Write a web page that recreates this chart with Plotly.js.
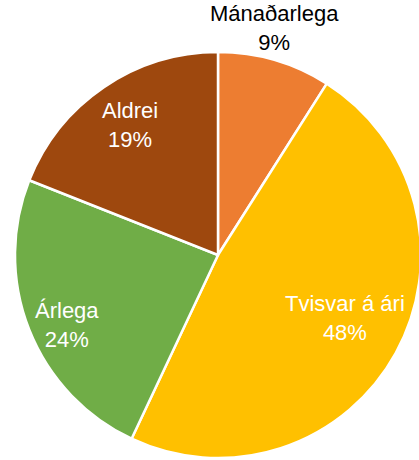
<!DOCTYPE html>
<html>
<head>
<meta charset="utf-8">
<script src="https://cdn.plot.ly/plotly-3.0.1.min.js"></script>
<style>
html, body { margin: 0; padding: 0; overflow: hidden; background: #ffffff; }
#chart { width: 436px; height: 460px; }
</style>
</head>
<body>
<div id="chart"></div>
<script>
var categories = ["Mánaðarlega", "Tvisvar á ári", "Árlega", "Aldrei"];
var shares = [9, 48, 24, 19];
var sliceColors = ["#ED7D31", "#FFC000", "#70AD47", "#9E480E"];
// label styling: radial distance (fraction of radius), small angular nudge (deg), colour
var labelRadius = [1.15, 0.70, 0.82, 0.773];
var labelNudge = [-2.3, -2.4, -3.3, 0];
var labelColors = ["#000000", "#ffffff", "#ffffff", "#ffffff"];

var W = 436, H = 460;
var dom = { x: [15 / W, 421 / W], y: [2 / H, 408 / H] };

var trace = {
  type: "pie",
  labels: categories,
  values: shares,
  sort: false,
  direction: "clockwise",
  rotation: 0,
  marker: { colors: sliceColors, line: { color: "#ffffff", width: 2.5 } },
  textinfo: "none",
  hoverinfo: "none",
  showlegend: false,
  automargin: false,
  domain: dom
};

// label positions derived from the data (slice mid-angles) and the pie domain
var total = shares.reduce(function (a, b) { return a + b; }, 0);
var cxPx = (dom.x[0] + dom.x[1]) / 2 * W;
var cyPx = H - (dom.y[0] + dom.y[1]) / 2 * H;
var Rpx = Math.min((dom.x[1] - dom.x[0]) * W, (dom.y[1] - dom.y[0]) * H) / 2;
var annotations = [];
var cum = 0;
for (var i = 0; i < shares.length; i++) {
  var mid = (cum + shares[i] / 2) / total * 360 + labelNudge[i];
  cum += shares[i];
  var a = mid * Math.PI / 180;
  var px = cxPx + Math.sin(a) * Rpx * labelRadius[i];
  var py = cyPx - Math.cos(a) * Rpx * labelRadius[i];
  var pct = Math.round(shares[i] / total * 100) + "%";
  annotations.push({
    xref: "paper", yref: "paper",
    x: px / W, y: (H - py) / H,
    xanchor: "center", yanchor: "middle",
    text: categories[i] + "<br>" + pct,
    showarrow: false,
    font: { family: "Liberation Sans, Arial, sans-serif", size: 22, color: labelColors[i] }
  });
}

var layout = {
  width: W, height: H,
  margin: { l: 0, r: 0, t: 0, b: 0 },
  paper_bgcolor: "#ffffff",
  showlegend: false,
  annotations: annotations
};
Plotly.newPlot("chart", [trace], layout, { displayModeBar: false, staticPlot: true });
</script>
</body>
</html>
